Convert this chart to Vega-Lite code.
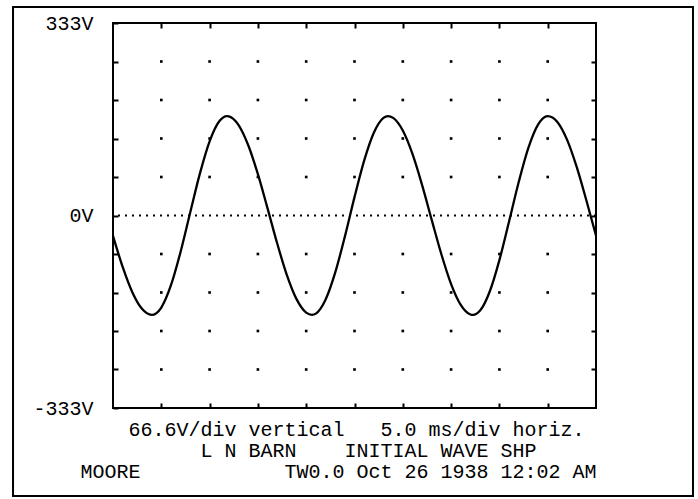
{
  "$schema": "https://vega.github.io/schema/vega-lite/v6.json",
  "width": 483,
  "height": 385,
  "autosize": "none",
  "padding": {"left": 113, "top": 23, "right": 102, "bottom": 91},
  "background": "white",
  "config": {
    "view": {"stroke": "black", "strokeWidth": 2},
    "axis": {
      "domain": false,
      "grid": false,
      "tickColor": "black",
      "tickWidth": 2,
      "tickSize": -5,
      "labelFont": "Liberation Mono",
      "labelFontSize": 20,
      "labelColor": "black",
      "titleFont": "Liberation Mono",
      "titleFontSize": 20,
      "titleColor": "black",
      "titleFontWeight": "normal"
    }
  },
  "datasets": {
    "wave": [
      {"t": 0, "v": -35.2}, {"t": 1, "v": -89.0}, {"t": 2, "v": -132.7}, {"t": 3, "v": -161.5},
      {"t": 4, "v": -172.0}, {"t": 5, "v": -159.2}, {"t": 6, "v": -120.6}, {"t": 7, "v": -62.6},
      {"t": 8, "v": 5.6}, {"t": 9, "v": 72.8}, {"t": 10, "v": 128.3}, {"t": 11, "v": 163.1},
      {"t": 11.8, "v": 172}, {"t": 12, "v": 171.6}, {"t": 13, "v": 156.5}, {"t": 14, "v": 121.6},
      {"t": 15, "v": 71.5}, {"t": 16, "v": 12.3}, {"t": 17, "v": -48.5}, {"t": 18, "v": -103.1},
      {"t": 19, "v": -144.7}, {"t": 20, "v": -168.1}, {"t": 20.6, "v": -172}, {"t": 21, "v": -169.8},
      {"t": 22, "v": -145.8}, {"t": 23, "v": -98.9}, {"t": 24, "v": -36.5}, {"t": 25, "v": 31.8},
      {"t": 26, "v": 95.0}, {"t": 27, "v": 143.2}, {"t": 28, "v": 169.0}, {"t": 28.47, "v": 172},
      {"t": 29, "v": 168.9}, {"t": 30, "v": 147.0}, {"t": 31, "v": 106.5}, {"t": 32, "v": 52.6},
      {"t": 33, "v": -8.0}, {"t": 34, "v": -67.5}, {"t": 35, "v": -118.6}, {"t": 36, "v": -154.6},
      {"t": 37, "v": -171.2}, {"t": 37.27, "v": -172}, {"t": 38, "v": -164.5}, {"t": 39, "v": -131.5},
      {"t": 40, "v": -77.2}, {"t": 41, "v": -10.4}, {"t": 42, "v": 58.0}, {"t": 43, "v": 117.1},
      {"t": 44, "v": 157.3}, {"t": 45, "v": 172.0}, {"t": 46, "v": 161.8}, {"t": 47, "v": 131.2},
      {"t": 48, "v": 84.0}, {"t": 49, "v": 26.3}, {"t": 50, "v": -34.8}
    ],
    "grid": [
      {"t": 5, "v": -266.4}, {"t": 5, "v": -199.8}, {"t": 5, "v": -133.2}, {"t": 5, "v": -66.6}, {"t": 5, "v": 66.6}, {"t": 5, "v": 133.2}, {"t": 5, "v": 199.8}, {"t": 5, "v": 266.4},
      {"t": 10, "v": -266.4}, {"t": 10, "v": -199.8}, {"t": 10, "v": -133.2}, {"t": 10, "v": -66.6}, {"t": 10, "v": 66.6}, {"t": 10, "v": 133.2}, {"t": 10, "v": 199.8}, {"t": 10, "v": 266.4},
      {"t": 15, "v": -266.4}, {"t": 15, "v": -199.8}, {"t": 15, "v": -133.2}, {"t": 15, "v": -66.6}, {"t": 15, "v": 66.6}, {"t": 15, "v": 133.2}, {"t": 15, "v": 199.8}, {"t": 15, "v": 266.4},
      {"t": 20, "v": -266.4}, {"t": 20, "v": -199.8}, {"t": 20, "v": -133.2}, {"t": 20, "v": -66.6}, {"t": 20, "v": 66.6}, {"t": 20, "v": 133.2}, {"t": 20, "v": 199.8}, {"t": 20, "v": 266.4},
      {"t": 25, "v": -266.4}, {"t": 25, "v": -199.8}, {"t": 25, "v": -133.2}, {"t": 25, "v": -66.6}, {"t": 25, "v": 66.6}, {"t": 25, "v": 133.2}, {"t": 25, "v": 199.8}, {"t": 25, "v": 266.4},
      {"t": 30, "v": -266.4}, {"t": 30, "v": -199.8}, {"t": 30, "v": -133.2}, {"t": 30, "v": -66.6}, {"t": 30, "v": 66.6}, {"t": 30, "v": 133.2}, {"t": 30, "v": 199.8}, {"t": 30, "v": 266.4},
      {"t": 35, "v": -266.4}, {"t": 35, "v": -199.8}, {"t": 35, "v": -133.2}, {"t": 35, "v": -66.6}, {"t": 35, "v": 66.6}, {"t": 35, "v": 133.2}, {"t": 35, "v": 199.8}, {"t": 35, "v": 266.4},
      {"t": 40, "v": -266.4}, {"t": 40, "v": -199.8}, {"t": 40, "v": -133.2}, {"t": 40, "v": -66.6}, {"t": 40, "v": 66.6}, {"t": 40, "v": 133.2}, {"t": 40, "v": 199.8}, {"t": 40, "v": 266.4},
      {"t": 45, "v": -266.4}, {"t": 45, "v": -199.8}, {"t": 45, "v": -133.2}, {"t": 45, "v": -66.6}, {"t": 45, "v": 66.6}, {"t": 45, "v": 133.2}, {"t": 45, "v": 199.8}, {"t": 45, "v": 266.4}
    ]
  },
  "layer": [
    {
      "data": {"values": [{}]},
      "mark": {"type": "rect", "fillOpacity": 0, "stroke": "black", "strokeWidth": 2, "clip": false},
      "encoding": {
        "x": {"datum": -10.35, "type": "quantitative", "scale": {"domain": [0, 50], "nice": false, "zero": false}, "axis": null},
        "x2": {"datum": 60.04},
        "y": {"datum": 360.7, "type": "quantitative", "scale": {"domain": [-333, 333], "nice": false, "zero": false}, "axis": null},
        "y2": {"datum": -485.2}
      }
    },
    {
      "data": {"values": [{}]},
      "mark": {"type": "rule", "color": "black", "strokeWidth": 2, "strokeDash": [2, 5]},
      "encoding": {
        "y": {"datum": 0, "type": "quantitative", "scale": {"domain": [-333, 333], "nice": false, "zero": false}, "axis": null}
      }
    },
    {
      "data": {"name": "grid"},
      "mark": {"type": "point", "shape": "square", "filled": true, "size": 7, "color": "black", "opacity": 1},
      "encoding": {
        "x": {"field": "t", "type": "quantitative", "scale": {"domain": [0, 50], "nice": false, "zero": false},
              "axis": {"orient": "top", "values": [5, 10, 15, 20, 25, 30, 35, 40, 45], "labels": false, "title": null}},
        "y": {"field": "v", "type": "quantitative", "scale": {"domain": [-333, 333], "nice": false, "zero": false},
              "axis": {"orient": "right", "values": [-266.4, -199.8, -133.2, -66.6, 0, 66.6, 133.2, 199.8, 266.4], "labels": false, "title": null}}
      }
    },
    {
      "data": {"name": "wave"},
      "mark": {"type": "line", "color": "black", "strokeWidth": 2.3, "interpolate": "monotone"},
      "encoding": {
        "x": {"field": "t", "type": "quantitative", "scale": {"domain": [0, 50], "nice": false, "zero": false},
              "axis": {"orient": "bottom", "values": [5, 10, 15, 20, 25, 30, 35, 40, 45], "labels": false,
                       "title": ["\u200b\u00a0\u00a0\u00a0\u00a066.6V/div vertical\u00a0\u00a0\u00a05.0 ms/div horiz.",
                                 "\u200b\u00a0\u00a0\u00a0\u00a0\u00a0\u00a0\u00a0\u00a0\u00a0\u00a0L N BARN\u00a0\u00a0\u00a0\u00a0INITIAL WAVE SHP",
                                 "MOORE\u00a0\u00a0\u00a0\u00a0\u00a0\u00a0\u00a0\u00a0\u00a0\u00a0\u00a0\u00a0TW0.0 Oct 26 1938 12:02 AM"],
                       "titleX": -33, "titleY": 27, "titleAlign": "left", "titleAnchor": "start", "titleBaseline": "alphabetic", "titleLineHeight": 21}},
        "y": {"field": "v", "type": "quantitative", "scale": {"domain": [-333, 333], "nice": false, "zero": false},
              "axis": {"orient": "left", "values": [-333, -266.4, -199.8, -133.2, -66.6, 0, 66.6, 133.2, 199.8, 266.4, 333],
                       "labelExpr": "datum.value == 333 ? '333V' : datum.value == 0 ? '0V' : datum.value == -333 ? '-333V' : ''",
                       "labelPadding": 25, "title": null}}
      }
    }
  ],
  "resolve": {"axis": {"x": "independent", "y": "independent"}}
}
